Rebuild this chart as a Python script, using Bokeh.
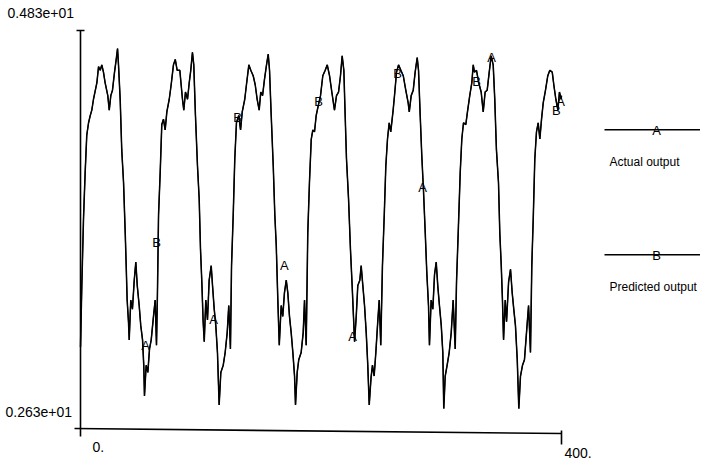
# Actual vs predicted output, redrawn from an old plotter chart with Bokeh
from bokeh.plotting import figure
from bokeh.models import Range1d
from bokeh.core.properties import value
from bokeh.embed import file_html
from bokeh.resources import INLINE

# sample index of each point
samples = [
    0.0, 1.1, 2.5, 3.9, 5.2, 6.7, 8.1, 9.4, 10.8, 13.6,
    15.0, 16.4, 17.7, 19.1, 20.5, 22.7, 23.9, 25.2, 26.6, 28.3,
    29.7, 30.8, 31.6, 33.0, 34.3, 35.8, 37.2, 38.0, 38.8, 39.9,
    40.5, 41.8, 43.2, 44.7, 46.0, 47.2, 48.8, 50.1, 51.6, 52.6,
    53.2, 54.6, 56.0, 57.4, 58.8, 60.7, 62.1, 63.2, 64.0, 64.9,
    66.3, 67.6, 69.0, 70.4, 71.8, 73.8, 75.4, 77.3, 78.8, 80.4,
    82.6, 84.8, 85.9, 87.3, 89.0, 90.4, 91.7, 93.1, 94.2, 95.6,
    97.3, 98.7, 99.8, 100.9, 102.0, 102.9, 104.2, 105.6, 107.0, 108.7,
    109.8, 111.2, 112.5, 113.9, 115.3, 116.7, 118.7, 120.3, 122.0, 123.3,
    124.7, 125.6, 127.0, 128.3, 129.7, 131.6, 133.1, 134.5, 136.6, 138.0,
    140.0, 141.6, 143.6, 145.3, 146.9, 148.6, 149.9, 151.4, 153.0, 154.7,
    156.1, 157.2, 158.6, 160.3, 161.6, 162.8, 164.1, 165.3, 166.9, 168.2,
    169.6, 171.1, 172.4, 173.8, 175.2, 176.6, 178.0, 178.8, 180.2, 181.5,
    183.5, 185.2, 186.3, 187.7, 189.0, 190.4, 191.9, 193.2, 194.6, 196.0,
    197.9, 199.6, 201.5, 203.5, 205.2, 207.1, 209.0, 211.2, 212.9, 214.6,
    216.2, 217.6, 219.0, 220.1, 221.2, 222.9, 224.5, 225.9, 227.0, 227.9,
    229.3, 230.6, 232.3, 233.4, 234.8, 236.2, 237.6, 238.9, 240.1, 241.6,
    242.8, 244.2, 245.6, 247.0, 248.4, 249.7, 251.1, 252.6, 253.9, 255.3,
    256.7, 258.0, 260.0, 261.4, 262.8, 264.5, 266.4, 268.4, 270.5, 272.5,
    273.4, 275.0, 276.7, 278.3, 280.0, 281.1, 282.5, 283.8, 285.2, 286.7,
    288.0, 289.4, 290.2, 291.6, 293.0, 294.4, 295.8, 297.1, 298.5, 300.0,
    301.3, 302.1, 303.3, 304.9, 306.6, 308.3, 309.9, 311.6, 312.7, 314.3,
    315.8, 317.1, 318.5, 320.4, 321.8, 323.7, 325.4, 326.6, 327.6, 329.3,
    331.2, 333.2, 334.9, 336.5, 338.2, 339.9, 341.5, 343.2, 344.5, 345.9,
    347.6, 348.7, 349.9, 350.9, 351.8, 353.2, 354.3, 356.0, 357.6, 359.0,
    360.3, 361.7, 363.2, 364.5, 365.9, 367.6, 369.2, 370.9, 372.6, 374.2,
    375.3, 376.5, 377.8, 379.2, 380.6, 382.0, 383.4, 384.8, 386.7, 388.6,
    390.3, 392.3, 393.6, 395.3, 397.0, 398.3, 399.7, 400.0,
]

actual = [
    3.08, 3.42, 3.79, 4.05, 4.25, 4.32, 4.36, 4.39, 4.45, 4.54,
    4.63, 4.61, 4.64, 4.60, 4.54, 4.47, 4.39, 4.47, 4.50, 4.60,
    4.67, 4.73, 4.64, 4.45, 4.17, 3.99, 3.71, 3.53, 3.34, 3.22,
    3.12, 3.34, 3.29, 3.45, 3.55, 3.42, 3.31, 3.20, 3.12, 2.98,
    2.81, 2.98, 2.94, 3.07, 3.12, 3.25, 3.34, 3.09, 3.38, 3.81,
    4.05, 4.31, 4.34, 4.28, 4.38, 4.45, 4.53, 4.64, 4.67, 4.61,
    4.61, 4.45, 4.39, 4.49, 4.45, 4.54, 4.61, 4.71, 4.64, 4.36,
    4.08, 3.90, 3.62, 3.44, 3.22, 3.11, 3.34, 3.23, 3.45, 3.53,
    3.42, 3.29, 3.20, 3.05, 2.76, 2.94, 2.98, 3.05, 3.16, 3.31,
    3.07, 3.53, 3.81, 4.12, 4.32, 4.36, 4.28, 4.38, 4.45, 4.53,
    4.64, 4.61, 4.58, 4.53, 4.45, 4.39, 4.49, 4.47, 4.56, 4.64,
    4.70, 4.61, 4.36, 4.08, 3.81, 3.64, 3.34, 3.09, 3.31, 3.25,
    3.38, 3.45, 3.38, 3.25, 3.16, 3.05, 2.92, 2.76, 2.94, 3.01,
    3.05, 3.16, 3.34, 3.09, 3.71, 3.99, 4.23, 4.28, 4.27, 4.36,
    4.42, 4.47, 4.58, 4.61, 4.64, 4.58, 4.49, 4.39, 4.47, 4.49,
    4.58, 4.69, 4.61, 4.36, 4.12, 3.90, 3.62, 3.42, 3.25, 3.11,
    3.25, 3.42, 3.45, 3.53, 3.42, 3.31, 3.16, 2.98, 2.76, 2.91,
    2.98, 2.92, 3.05, 3.20, 3.34, 3.09, 3.53, 3.81, 4.08, 4.23,
    4.32, 4.27, 4.39, 4.49, 4.60, 4.64, 4.61, 4.58, 4.50, 4.43,
    4.38, 4.47, 4.50, 4.60, 4.68, 4.61, 4.36, 4.14, 3.95, 3.71,
    3.49, 3.31, 3.09, 3.34, 3.29, 3.48, 3.55, 3.42, 3.31, 3.20,
    3.05, 2.74, 2.92, 2.98, 3.05, 3.16, 3.34, 3.07, 3.44, 3.75,
    4.05, 4.23, 4.32, 4.31, 4.38, 4.47, 4.54, 4.64, 4.60, 4.61,
    4.54, 4.49, 4.38, 4.49, 4.50, 4.60, 4.69, 4.64, 4.45, 4.17,
    3.99, 3.71, 3.53, 3.34, 3.12, 3.34, 3.22, 3.44, 3.51, 3.38,
    3.29, 3.20, 3.01, 2.74, 2.92, 2.98, 3.01, 3.16, 3.31, 3.05,
    3.53, 3.79, 4.12, 4.27, 4.32, 4.23, 4.34, 4.43, 4.50, 4.58,
    4.61, 4.60, 4.53, 4.45, 4.39, 4.49, 4.45, 4.47,
]

# the predicted trace sits on top of the actual one in the picture
predicted = list(actual)

# where the letter symbols are printed along each trace
a_marks_x = [54.1, 110.6, 169.6, 226.2, 284.4, 341.8, 399.2]
a_marks_y = [3.09, 3.23, 3.53, 3.14, 3.96, 4.68, 4.44]
b_marks_x = [63.2, 130.6, 197.9, 263.6, 329.3, 395.8]
b_marks_y = [3.66, 4.35, 4.44, 4.59, 4.55, 4.39]

y_min, y_max = 2.63, 4.83
x_min, x_max = 0, 400
y_labels = ["0.263e+01", "0.483e+01"]
x_labels = ["0.", "400."]
series_names = ["Actual output", "Predicted output"]
series_symbols = ["A", "B"]

W, H = 700, 460
FONT = value("Liberation Sans")

# frame covers the whole canvas; data 0..400 sits on px 80..561, 2.63..4.83 on px 428..30
xs = (x_max - x_min) / 481.0
ys = (y_max - y_min) / 398.0
p = figure(width=W, height=H, output_backend="svg", toolbar_location=None,
           x_range=Range1d(x_min - 80 * xs, x_max + (W - 561) * xs),
           y_range=Range1d(y_min - (H - 428) * ys, y_max + 30 * ys),
           x_axis_location=None, y_axis_location=None, min_border=0)
p.grid.visible = False
p.outline_line_color = None
p.background_fill_color = "white"
p.border_fill_color = "white"

# pixel space for the hand-drawn axes and legend
p.extra_x_ranges = {"px": Range1d(0, W)}
p.extra_y_ranges = {"px": Range1d(H, 0)}
px = dict(x_range_name="px", y_range_name="px")

# axes, as drawn by the plotter (slightly skewed scan)
p.line([80, 80], [30, 436], line_color="black", line_width=1.6, **px)
p.line([76, 84], [30, 30], line_color="black", line_width=1.6, **px)
p.line([74, 561], [428, 433], line_color="black", line_width=1.6, **px)
p.line([561, 561], [430, 444], line_color="black", line_width=1.6, **px)

p.text([7, 5], [12.5, 411.5], text=[y_labels[1], y_labels[0]],
       text_font=FONT, text_font_size="14px", text_align="left",
       text_baseline="middle", text_color="black", **px)
p.text([92, 564], [446, 452], text=x_labels,
       text_font=FONT, text_font_size="14px", text_align="left",
       text_baseline="middle", text_color="black", **px)

# the two traces
p.line(samples, actual, line_color="black", line_width=1.5)
p.line(samples, predicted, line_color="black", line_width=1.1)

p.text(a_marks_x, a_marks_y, text=[series_symbols[0]] * len(a_marks_x),
       text_font=FONT, text_font_size="13px", text_align="center",
       text_baseline="middle", text_color="black")
p.text(b_marks_x, b_marks_y, text=[series_symbols[1]] * len(b_marks_x),
       text_font=FONT, text_font_size="13px", text_align="center",
       text_baseline="middle", text_color="black")

# legend at the right
for row, (name, sym) in enumerate(zip(series_names, series_symbols)):
    ly = 129.3 + row * 125
    p.line([604, 700], [ly, ly], line_color="black", line_width=1.4, **px)
    p.text([656], [ly + 0.5], text=[sym], text_font=FONT, text_font_size="13px",
           text_align="center", text_baseline="middle", text_color="black", **px)
    p.text([609], [ly + 32.5], text=[name], text_font=FONT, text_font_size="12px",
           text_align="left", text_baseline="middle", text_color="black", **px)

open("out.html", "w").write(file_html(p, INLINE))
